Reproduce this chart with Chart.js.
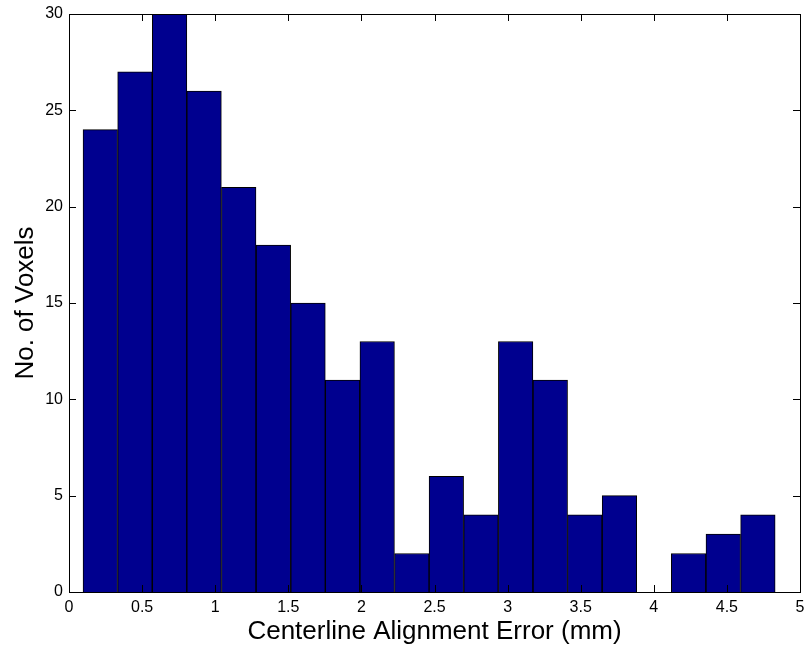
<!DOCTYPE html>
<html>
<head>
<meta charset="utf-8">
<script src="https://cdn.jsdelivr.net/npm/chart.js@4"></script>
<style>
  html, body { margin: 0; padding: 0; background: #fff; }
  canvas { display: block; }
</style>
</head>
<body>
<canvas id="hist" width="805" height="647"></canvas>
<script>
// bin centres (mm) and counts
const binCenters = [0.214, 0.451, 0.688, 0.924, 1.161, 1.398, 1.635, 1.871, 2.108, 2.345,
                    2.581, 2.818, 3.055, 3.292, 3.528, 3.765, 4.002, 4.238, 4.475, 4.712];
const counts = [24, 27, 30, 26, 21, 18, 15, 11, 13, 2, 6, 4, 13, 11, 4, 5, 0, 2, 3, 4];
const xTicks = [0, 0.5, 1, 1.5, 2, 2.5, 3, 3.5, 4, 4.5, 5];
const yTicks = [0, 5, 10, 15, 20, 25, 30];

const FONT = "'Liberation Sans', Arial, sans-serif";

// matlab style box with ticks pointing inwards
const boxTicks = {
  id: "boxTicks",
  afterDraw(chart) {
    const { ctx, chartArea: a, scales } = chart;
    const len = 7;
    ctx.save();
    ctx.strokeStyle = "#000";
    ctx.lineWidth = 1;
    ctx.beginPath();
    xTicks.forEach(v => {
      const x = Math.round(scales.x.getPixelForValue(v)) + 0.5;
      ctx.moveTo(x, a.bottom); ctx.lineTo(x, a.bottom - len);
      ctx.moveTo(x, a.top); ctx.lineTo(x, a.top + len);
    });
    yTicks.forEach(v => {
      const y = Math.round(scales.y.getPixelForValue(v)) + 0.5;
      ctx.moveTo(a.left, y); ctx.lineTo(a.left + len, y);
      ctx.moveTo(a.right, y); ctx.lineTo(a.right - len, y);
    });
    ctx.stroke();
    ctx.strokeRect(Math.round(a.left) + 0.5, Math.round(a.top) + 0.5,
                   Math.round(a.right - a.left), Math.round(a.bottom - a.top));
    ctx.restore();
  }
};

new Chart(document.getElementById("hist"), {
  type: "bar",
  data: {
    datasets: [{
      data: binCenters.map((x, i) => ({ x, y: counts[i] })),
      backgroundColor: "#00008F",
      borderColor: "#000",
      borderWidth: 1,
      barPercentage: 1,
      categoryPercentage: 1
    }]
  },
  options: {
    responsive: false,
    animation: false,
    layout: { padding: { top: 14, right: 5, left: 0, bottom: 0 } },
    plugins: { legend: { display: false }, tooltip: { enabled: false } },
    scales: {
      x: {
        type: "linear",
        min: 0,
        max: 5,
        offset: false,
        grid: { display: false, drawTicks: false, tickLength: 0, offset: false },
        border: { display: false },
        afterBuildTicks: s => { s.ticks = xTicks.map(v => ({ value: v })); },
        afterFit: s => {
          s.height = 55;
          s.paddingLeft = 0;
          s.paddingRight = 0;
        },
        ticks: {
          autoSkip: false,
          maxRotation: 0,
          padding: 6,
          color: "#000",
          font: { family: FONT, size: 16 },
          callback: v => String(v)
        },
        title: {
          display: true,
          text: "Centerline Alignment Error (mm)",
          color: "#000",
          font: { family: FONT, size: 26 },
          padding: { top: 0, bottom: 0 }
        }
      },
      y: {
        min: 0,
        max: 30,
        grid: { display: false, drawTicks: false, tickLength: 0 },
        border: { display: false },
        afterBuildTicks: s => { s.ticks = yTicks.map(v => ({ value: v })); },
        afterFit: s => {
          s.width = 69;
          s.paddingTop = 0;
          s.paddingBottom = 0;
        },
        ticks: {
          padding: 6,
          color: "#000",
          font: { family: FONT, size: 16 },
          callback: v => String(v)
        },
        title: {
          display: true,
          text: "No. of Voxels",
          color: "#000",
          font: { family: FONT, size: 26 },
          padding: { top: 10, bottom: 0 }
        }
      }
    }
  },
  plugins: [boxTicks]
});
</script>
</body>
</html>
